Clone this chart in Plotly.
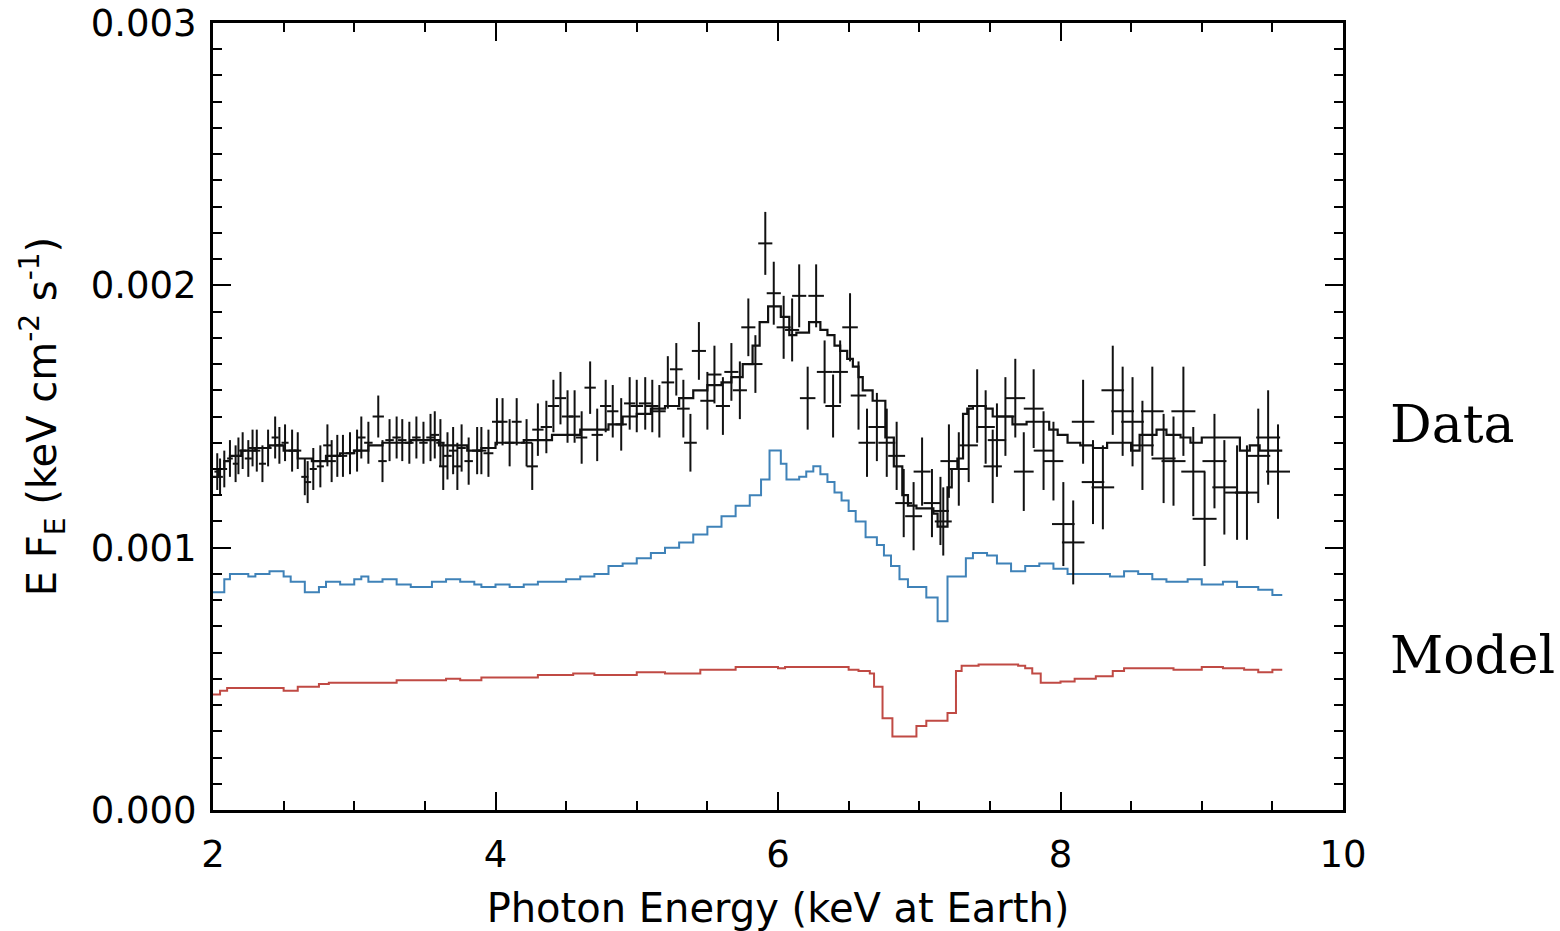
import plotly.graph_objects as go

# ---------------- data (crosses) ----------------
data_energy = [
    2.03, 2.05, 2.08, 2.12, 2.16, 2.18, 2.21, 2.25, 2.28, 2.31, 2.35, 2.39, 2.44, 2.47, 2.51, 2.56, 2.60,
    2.65, 2.67, 2.71, 2.76, 2.81, 2.84, 2.88, 2.92, 2.97,
    3.02, 3.05, 3.10, 3.17, 3.20, 3.25, 3.30, 3.34, 3.39, 3.44, 3.49, 3.54, 3.57, 3.61, 3.63, 3.66,
    3.70, 3.73, 3.76, 3.81, 3.87, 3.90, 3.95,
    4.01, 4.05, 4.10, 4.15, 4.22, 4.26, 4.30, 4.36, 4.41, 4.46, 4.51, 4.56, 4.61, 4.67, 4.72, 4.78,
    4.83, 4.89, 4.95,
    5.00, 5.06, 5.11, 5.16, 5.22, 5.28, 5.33, 5.38, 5.44, 5.50, 5.55, 5.61, 5.67, 5.73, 5.79, 5.84,
    5.91, 5.97,
    6.04, 6.10, 6.15, 6.21, 6.27, 6.33, 6.39, 6.44, 6.51, 6.57, 6.63, 6.70, 6.77, 6.84, 6.89, 6.96,
    7.02, 7.09, 7.15, 7.17, 7.21, 7.28, 7.35, 7.41, 7.47, 7.52, 7.55, 7.61, 7.68, 7.74, 7.81, 7.88, 7.95,
    8.02, 8.09, 8.16, 8.23, 8.30, 8.37, 8.44, 8.51, 8.58, 8.65, 8.73, 8.80, 8.87, 8.94, 9.02, 9.09,
    9.16, 9.25, 9.32, 9.40, 9.47, 9.54,
]
data_flux = [
    0.00129, 0.00127, 0.00130, 0.00134, 0.00132, 0.00135, 0.00137, 0.00134, 0.00138, 0.00137, 0.00132,
    0.00138, 0.00142, 0.00139, 0.00140, 0.00137, 0.00137, 0.00127, 0.00125, 0.00130, 0.00131, 0.00139,
    0.00133, 0.00135, 0.00135, 0.00136,
    0.00137, 0.00142, 0.00140, 0.00150, 0.00133, 0.00141, 0.00142, 0.00141, 0.00140, 0.00142, 0.00140,
    0.00142, 0.00143, 0.00140, 0.00131, 0.00135, 0.00137, 0.00131, 0.00138, 0.00133, 0.00137, 0.00137,
    0.00136,
    0.00148, 0.00148, 0.00140, 0.00148, 0.00140, 0.00131, 0.00145, 0.00146, 0.00154, 0.00157, 0.00150,
    0.00150, 0.00142, 0.00161, 0.00143, 0.00154, 0.00152, 0.00147, 0.00155,
    0.00154, 0.00155, 0.00154, 0.00152, 0.00163, 0.00168, 0.00153, 0.00140, 0.00175, 0.00156, 0.00166,
    0.00154, 0.00167, 0.00160, 0.00184, 0.00170, 0.00216, 0.00197,
    0.00184, 0.00183, 0.00196, 0.00157, 0.00196, 0.00167, 0.00154, 0.00167, 0.00184, 0.00158, 0.00140,
    0.00146, 0.00140, 0.00135, 0.00117, 0.00112,
    0.00129, 0.00117, 0.00114, 0.00110, 0.00133, 0.00130, 0.00139, 0.00154, 0.00146, 0.00131, 0.00141,
    0.00150, 0.00157, 0.00129, 0.00153, 0.00137, 0.00133,
    0.00109, 0.00102, 0.00148, 0.00125, 0.00123, 0.00160, 0.00152, 0.00148, 0.00139, 0.00152, 0.00134,
    0.00133, 0.00152, 0.00129, 0.00111, 0.00133, 0.00123, 0.00121, 0.00121, 0.00135, 0.00142, 0.00129,
]
data_xerr = [
    0.02, 0.02, 0.02, 0.02, 0.02, 0.02, 0.025, 0.025, 0.025, 0.025, 0.025, 0.025, 0.025, 0.025, 0.025,
    0.025, 0.025, 0.025, 0.025, 0.025, 0.025, 0.03, 0.03, 0.03, 0.03, 0.03,
    0.03, 0.03, 0.03, 0.04, 0.03, 0.03, 0.03, 0.03, 0.03, 0.03, 0.03, 0.03, 0.03, 0.03, 0.03, 0.03,
    0.03, 0.03, 0.03, 0.03, 0.035, 0.035, 0.035,
    0.035, 0.035, 0.035, 0.035, 0.04, 0.04, 0.04, 0.04, 0.04, 0.04, 0.04, 0.04, 0.04, 0.04, 0.04, 0.04,
    0.04, 0.04, 0.04,
    0.045, 0.045, 0.045, 0.045, 0.045, 0.045, 0.045, 0.045, 0.05, 0.05, 0.05, 0.05, 0.05, 0.05, 0.05,
    0.05, 0.05, 0.05,
    0.05, 0.05, 0.05, 0.055, 0.055, 0.055, 0.055, 0.055, 0.055, 0.055, 0.06, 0.06, 0.06, 0.06, 0.06, 0.06,
    0.06, 0.06, 0.06, 0.06, 0.06, 0.065, 0.065, 0.065, 0.065, 0.065, 0.065, 0.065, 0.07, 0.07, 0.07,
    0.07, 0.07,
    0.08, 0.08, 0.08, 0.08, 0.08, 0.08, 0.08, 0.08, 0.08, 0.08, 0.085, 0.085, 0.085, 0.085, 0.085,
    0.085, 0.085, 0.085, 0.085, 0.085, 0.085, 0.085,
]
data_yerr = [
    0.00007, 0.00007, 0.00007, 0.00007, 0.00007, 0.00007, 0.00007, 0.00007, 0.00007, 0.00008, 0.00007,
    0.00007, 0.00008, 0.00007, 0.00007, 0.00008, 0.00007, 0.00007, 0.00008, 0.00008, 0.00008, 0.00008,
    0.00008, 0.00008, 0.00008, 0.00008,
    0.00008, 0.00008, 0.00008, 0.00008, 0.00008, 0.00008, 0.00008, 0.00008, 0.00008, 0.00008, 0.00008,
    0.00009, 0.00009, 0.00009, 0.00009, 0.00009, 0.00009, 0.00009, 0.00009, 0.00009, 0.00009, 0.00009,
    0.00009,
    0.00009, 0.00009, 0.00009, 0.00009, 0.00009, 0.00009, 0.00010, 0.00010, 0.00010, 0.00010, 0.00010,
    0.00010, 0.00010, 0.00010, 0.00010, 0.00010, 0.00010, 0.00010, 0.00010,
    0.00010, 0.00010, 0.00010, 0.00010, 0.00010, 0.00010, 0.00011, 0.00011, 0.00011, 0.00011, 0.00011,
    0.00011, 0.00011, 0.00011, 0.00011, 0.00011, 0.00012, 0.00012,
    0.00012, 0.00012, 0.00012, 0.00012, 0.00012, 0.00012, 0.00012, 0.00012, 0.00013, 0.00013, 0.00013,
    0.00013, 0.00013, 0.00013, 0.00013, 0.00013,
    0.00013, 0.00013, 0.00013, 0.00013, 0.00014, 0.00014, 0.00014, 0.00014, 0.00014, 0.00014, 0.00014,
    0.00015, 0.00015, 0.00015, 0.00015, 0.00015, 0.00015,
    0.00016, 0.00016, 0.00016, 0.00016, 0.00016, 0.00017, 0.00017, 0.00017, 0.00017, 0.00017, 0.00017,
    0.00017, 0.00017, 0.00017, 0.00018, 0.00018, 0.00018, 0.00018, 0.00018, 0.00018, 0.00018, 0.00018,
]

# ---------------- model through data (black histogram) ----------------
model_edges = [
    2.00, 2.04, 2.08, 2.12, 2.20, 2.30, 2.40, 2.50, 2.60, 2.70, 2.80, 2.90, 3.00, 3.10, 3.20, 3.40,
    3.60, 3.80, 3.90, 4.00, 4.20, 4.40, 4.60, 4.80, 4.90, 5.00, 5.10, 5.20, 5.30, 5.40, 5.50, 5.60,
    5.67, 5.75, 5.82, 5.87, 5.93, 6.02, 6.08, 6.13, 6.22, 6.30, 6.35, 6.40, 6.44, 6.49, 6.53, 6.57,
    6.60, 6.67, 6.76, 6.82, 6.88, 6.92, 6.98, 7.10, 7.13, 7.20, 7.23, 7.27, 7.31, 7.34, 7.38, 7.47,
    7.52, 7.66, 7.76, 7.92, 7.98, 8.05, 8.14, 8.23, 8.33, 8.50, 8.56, 8.68, 8.75, 8.85, 8.92, 9.00,
    9.27, 9.34, 9.41,
]
model_flux = [
    0.00127, 0.00130, 0.00133, 0.00135, 0.00137, 0.00138, 0.00139, 0.00137, 0.00134, 0.00133, 0.00135,
    0.00136, 0.00137, 0.00139, 0.00140, 0.00141, 0.00139, 0.00137, 0.00138, 0.00140, 0.00141, 0.00143,
    0.00145, 0.00147, 0.00150, 0.00151, 0.00153, 0.00154, 0.00157, 0.00160, 0.00162, 0.00163, 0.00165,
    0.00170, 0.00177, 0.00186, 0.00192, 0.00188, 0.00181, 0.00182, 0.00186, 0.00183, 0.00181, 0.00177,
    0.00175, 0.00172, 0.00169, 0.00165, 0.00160, 0.00156, 0.00142, 0.00131, 0.00120, 0.00116, 0.00115,
    0.00113, 0.00108, 0.00123, 0.00130, 0.00134, 0.00151, 0.00153, 0.00154, 0.00153, 0.00150, 0.00147,
    0.00148, 0.00145, 0.00143, 0.00140, 0.00139, 0.00138, 0.00140, 0.00137, 0.00143, 0.00145, 0.00143,
    0.00142, 0.00140, 0.00142, 0.00137, 0.00139, 0.00137,
]
model_end = 9.57

# ---------------- blue component ----------------
blue_edges = [
    2.00, 2.08, 2.12, 2.25, 2.30, 2.40, 2.50, 2.55, 2.65, 2.75, 2.80, 2.90, 3.00, 3.05, 3.10, 3.20,
    3.30, 3.40, 3.55, 3.65, 3.75, 3.85, 3.90, 4.00, 4.10, 4.20, 4.30, 4.50, 4.60, 4.70, 4.80, 4.90,
    5.00, 5.10, 5.20, 5.30, 5.40, 5.50, 5.60, 5.70, 5.80, 5.88, 5.94, 6.02, 6.06, 6.15, 6.20, 6.25,
    6.30, 6.35, 6.40, 6.45, 6.50, 6.55, 6.62, 6.70, 6.75, 6.80, 6.86, 6.92, 7.05, 7.13, 7.20, 7.33,
    7.38, 7.48, 7.55, 7.65, 7.75, 7.85, 7.95, 8.05, 8.20, 8.35, 8.45, 8.55, 8.65, 8.75, 8.90, 9.00,
    9.15, 9.25, 9.40, 9.50,
]
blue_flux = [
    0.00083, 0.00088, 0.00090, 0.00089, 0.00090, 0.00091, 0.00089, 0.00087, 0.00083, 0.00085, 0.00087,
    0.00086, 0.00088, 0.00089, 0.00087, 0.00088, 0.00086, 0.00085, 0.00087, 0.00088, 0.00087, 0.00086,
    0.00085, 0.00086, 0.00085, 0.00086, 0.00087, 0.00088, 0.00089, 0.00090, 0.00093, 0.00094, 0.00096,
    0.00098, 0.00100, 0.00102, 0.00105, 0.00108, 0.00112, 0.00116, 0.00120, 0.00126, 0.00137, 0.00132,
    0.00126, 0.00127, 0.00129, 0.00131, 0.00128, 0.00125, 0.00121, 0.00118, 0.00114, 0.00110, 0.00104,
    0.00101, 0.00097, 0.00093, 0.00088, 0.00085, 0.00081, 0.00072, 0.00089, 0.00096, 0.00098, 0.00097,
    0.00094, 0.00091, 0.00093, 0.00094, 0.00092, 0.00090, 0.00090, 0.00089, 0.00091, 0.00090, 0.00088,
    0.00087, 0.00088, 0.00086, 0.00087, 0.00085, 0.00084, 0.00082,
]

# ---------------- red component ----------------
red_edges = [
    2.00, 2.05, 2.10, 2.50, 2.60, 2.75, 2.82, 3.30, 3.65, 3.75, 3.90, 4.30, 4.55, 4.70, 5.00, 5.20,
    5.45, 5.70, 6.00, 6.05, 6.50, 6.57, 6.65, 6.68, 6.74, 6.81, 6.98, 7.05, 7.20, 7.26, 7.30, 7.42,
    7.70, 7.75, 7.80, 7.86, 8.00, 8.10, 8.25, 8.37, 8.45, 8.80, 9.00, 9.15, 9.30, 9.40, 9.50,
]
red_flux = [
    0.000440, 0.000455, 0.000465, 0.000455, 0.000470, 0.000480, 0.000485, 0.000495, 0.000500, 0.000495,
    0.000505, 0.000515, 0.000520, 0.000515, 0.000525, 0.000520, 0.000535, 0.000545, 0.000540, 0.000545,
    0.000535, 0.000530, 0.000520, 0.000470, 0.000350, 0.000280, 0.000320, 0.000340, 0.000370, 0.000530,
    0.000550, 0.000555, 0.000550, 0.000540, 0.000520, 0.000485, 0.000490, 0.000500, 0.000510, 0.000530,
    0.000540, 0.000535, 0.000545, 0.000540, 0.000535, 0.000525, 0.000535,
]

x_ticks = [2, 4, 6, 8, 10]
y_ticks = [0.000, 0.001, 0.002, 0.003]


def step_xy(edges, vals, end):
    return list(edges) + [end], list(vals) + [vals[-1]]


fig = go.Figure()

bx, by = step_xy(blue_edges, blue_flux, model_end)
fig.add_trace(go.Scatter(x=bx, y=by, mode="lines", line=dict(shape="hv", color="#3f82b8", width=2),
                         hoverinfo="skip"))
rx, ry = step_xy(red_edges, red_flux, model_end)
fig.add_trace(go.Scatter(x=rx, y=ry, mode="lines", line=dict(shape="hv", color="#c04a44", width=2),
                         hoverinfo="skip"))
mx, my = step_xy(model_edges, model_flux, model_end)
fig.add_trace(go.Scatter(x=mx, y=my, mode="lines", line=dict(shape="hv", color="#111111", width=2.2),
                         hoverinfo="skip"))
fig.add_trace(go.Scatter(
    x=data_energy, y=data_flux, mode="markers",
    marker=dict(size=1, color="rgba(0,0,0,0)"),
    error_x=dict(type="data", array=data_xerr, width=0, thickness=2, color="#111111"),
    error_y=dict(type="data", array=data_yerr, width=0, thickness=2, color="#111111"),
))

tick_font = dict(family="DejaVu Sans", size=37, color="black")
title_font = dict(family="DejaVu Sans", size=40, color="black")

fig.update_layout(
    width=1560, height=931,
    margin=dict(l=213, r=217, t=23, b=121, autoexpand=False),
    paper_bgcolor="white", plot_bgcolor="white",
    showlegend=False,
    font=tick_font,
    xaxis=dict(
        range=[2, 10], tickvals=x_ticks, ticktext=[str(v) for v in x_ticks],
        showgrid=False, zeroline=False, automargin=False,
        showline=True, linewidth=3, linecolor="black", mirror="allticks",
        ticks="inside", ticklen=18, tickwidth=2, tickcolor="black",
        minor=dict(dtick=0.5, ticks="inside", ticklen=9, tickwidth=2, tickcolor="black", showgrid=False),
        tickfont=tick_font, ticklabelstandoff=10, ticklabeloverflow="allow",
        title=dict(text="Photon Energy (keV at Earth)", font=title_font, standoff=20),
    ),
    yaxis=dict(
        range=[0, 0.0030001], tickvals=y_ticks, ticktext=["%.3f" % v for v in y_ticks],
        showgrid=False, zeroline=False, automargin=False,
        showline=True, linewidth=3, linecolor="black", mirror="allticks",
        ticks="inside", ticklen=18, tickwidth=2, tickcolor="black",
        minor=dict(dtick=0.0001, ticks="inside", ticklen=9, tickwidth=2, tickcolor="black", showgrid=False),
        tickfont=tick_font, ticklabelstandoff=6, ticklabeloverflow="allow",
        title=dict(text="E F<sub>E</sub> (keV cm<sup>-2</sup> s<sup>-1</sup>)", font=title_font, standoff=22),
    ),
    annotations=[
        dict(text="Data", xref="paper", yref="paper", x=1.04, y=0.49, xanchor="left", yanchor="middle",
             showarrow=False, font=dict(family="DejaVu Serif", size=52, color="black")),
        dict(text="Model", xref="paper", yref="paper", x=1.04, y=0.197, xanchor="left", yanchor="middle",
             showarrow=False, font=dict(family="DejaVu Serif", size=52, color="black")),
    ],
)

fig.write_html("out.html")
